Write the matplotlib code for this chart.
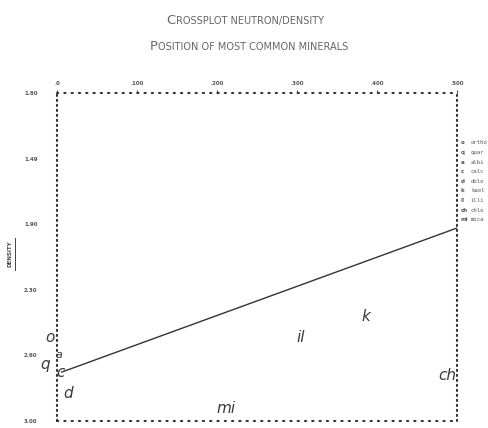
import matplotlib.pyplot as plt

# axis scales
x_ticks = [0, 100, 200, 300, 400, 500]
x_labels = [".0", ".100", ".200", ".300", ".400", ".500"]
y_ticks = [1.80, 2.04, 2.28, 2.52, 2.76, 3.00]
y_labels = ["1.80", "1.49", "1.90", "2.30", "2.60", "3.00"]

# sandstone/limestone trend line
line_x = [6, 500]
line_y = [2.821, 2.294]

# mineral positions (neutron, density)
mineral_codes = ["o", "q", "a", "c", "d", "il", "k", "ch", "mi"]
mineral_x = [-9, -15, 2.5, 4, 14, 305, 386, 488, 211]
mineral_y = [2.693, 2.795, 2.760, 2.824, 2.898, 2.693, 2.616, 2.835, 2.956]
mineral_size = [11, 11, 8, 11, 11, 11, 11, 11, 11]

# legend (cut off by the page edge in the scan)
legend_codes = ["o", "q", "a", "c", "d", "k", "il", "ch", "mi"]
legend_names = ["ortho", "quar", "albi", "calc", "dolo",
                "kaol", "illi", "chlo", "mica"]

fig = plt.figure(figsize=(4.89, 4.28), dpi=100)
ax = fig.add_axes([0.1166, 0.0164, 0.818, 0.7663])

ax.set_xlim(0, 500)
ax.set_ylim(3.00, 1.80)

for side in ["top", "bottom"]:
    ax.spines[side].set_linestyle((0, (0.6, 2.9)))
for side in ["left", "right"]:
    ax.spines[side].set_linestyle((0, (0.6, 1.8)))
for side in ["top", "bottom", "left", "right"]:
    ax.spines[side].set_linewidth(1.5)
    ax.spines[side].set_capstyle("round")
    ax.spines[side].set_color("#333333")

ax.xaxis.tick_top()
ax.set_xticks(x_ticks)
ax.set_xticklabels(x_labels, fontsize=4, color="#555555", fontweight="bold")
ax.set_yticks(y_ticks)
ax.set_yticklabels(y_labels, fontsize=4, color="#555555", fontweight="bold")
ax.tick_params(axis="x", length=2, pad=3, color="#444444")
ax.tick_params(axis="y", length=0, pad=14)

ax.plot(line_x, line_y, color="#333333", linewidth=1.0)

for code, mx, my, fs in zip(mineral_codes, mineral_x, mineral_y, mineral_size):
    ax.text(mx, my, code, fontsize=fs, style="italic", color="#3a3a3a",
            ha="center", va="center", clip_on=False)

# legend beside right frame
for i, (code, name) in enumerate(zip(legend_codes, legend_names)):
    yy = 143 + i * 9.6
    fig.text(461 / 489, 1 - yy / 428, code, fontsize=4.0, color="#555555",
             ha="left", va="center", fontweight="bold")
    fig.text(471 / 489, 1 - yy / 428, name, fontsize=4.1, color="#555555",
             ha="left", va="center", family="DejaVu Sans Mono")

# y axis label, underlined
fig.text(10 / 489, 1 - 254 / 428, "DENSITY", fontsize=4, rotation=90,
         color="#444444", ha="center", va="center", fontweight="bold")
fig.add_artist(plt.Line2D([15 / 489, 15 / 489], [1 - 238 / 428, 1 - 270 / 428],
                          color="#444444", linewidth=0.7))


def small_caps(text, xc, yc, big=9.5, small=7.0):
    # first letter large, rest upper case smaller
    t0 = fig.text(0, 1 - yc / 428, text[0], fontsize=big, color="#666666",
                  va="baseline", ha="left")
    t1 = fig.text(0, 1 - yc / 428, text[1:].upper(), fontsize=small,
                  color="#666666", va="baseline", ha="left")
    fig.canvas.draw()
    r = fig.canvas.get_renderer()
    w0 = t0.get_window_extent(r).width
    w1 = t1.get_window_extent(r).width
    x0 = xc - (w0 + w1 + 1) / 2
    t0.set_x(x0 / 489)
    t1.set_x((x0 + w0 + 1) / 489)


small_caps("Crossplot neutron/density", 245, 24)
small_caps("Position of most common minerals", 249, 50)

fig.savefig("out.png", dpi=100)
